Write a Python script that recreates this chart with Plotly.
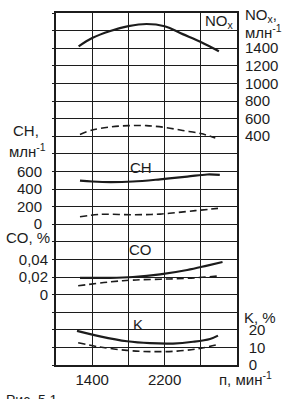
import plotly.graph_objects as go

# engine speed, rpm
nox_rpm = [1250, 1400, 1600, 1800, 2000, 2200, 2400, 2600, 2800]
nox_solid = [1420, 1515, 1595, 1650, 1675, 1650, 1560, 1470, 1365]
noxd_rpm = [1265, 1400, 1600, 1800, 2000, 2200, 2400, 2600, 2760]
nox_dash = [420, 470, 505, 520, 520, 500, 465, 430, 380]

ch_rpm = [1265, 1400, 1600, 1850, 2150, 2450, 2670, 2810]
ch_solid = [495, 485, 478, 485, 510, 540, 565, 560]
chd_rpm = [1265, 1490, 1850, 2150, 2450, 2600, 2790]
ch_dash = [85, 112, 108, 115, 145, 160, 180]

co_rpm = [1265, 1600, 1850, 2150, 2450, 2670, 2840]
co_solid = [0.019, 0.019, 0.020, 0.023, 0.028, 0.033, 0.037]
cod_rpm = [1245, 1600, 1850, 2150, 2450, 2780]
co_dash = [0.010, 0.0145, 0.0165, 0.0175, 0.0185, 0.021]

k_rpm = [1232, 1486, 1785, 2039, 2293, 2514, 2702, 2790]
k_solid = [19.4, 16.3, 13.5, 12.4, 12.2, 13.2, 14.8, 16.7]
kd_rpm = [1245, 1486, 1785, 2039, 2337, 2591, 2790]
k_dash = [12.6, 10.2, 8.3, 7.6, 7.9, 9.4, 11.7]

x_grid = [1000, 1400, 1800, 2200, 2600, 3000]
x_text = ["", "1400", "", "2200", "", ""]
nox_ticks = [400, 600, 800, 1000, 1200, 1400]
ch_ticks = [0, 200, 400, 600]
co_ticks = [0, 0.02, 0.04]
co_text = ["0", "0,02", "0,04"]
k_ticks = [0, 10, 20]

INK = "#1c1c1c"
FONT = dict(family="Liberation Sans, Arial, sans-serif", size=15, color=INK)

# K axis is the base axis: one grid line every 10 %, 20 grid steps
k_grid = list(range(0, 201, 10))
k_text = [str(v) if v in k_ticks else "" for v in k_grid]
# CH axis carries the small outward ticks on the left, one per grid line
ch_grid = list(range(-1600, 2401, 200))
ch_text = [str(v) if v in ch_ticks else "" for v in ch_grid]

fig = go.Figure()

def add(x, y, axis, dash):
    fig.add_trace(go.Scatter(
        x=x, y=y, yaxis=axis, mode="lines", line_shape="spline",
        line=dict(color=INK, width=1.6 if dash else 2.2,
                  dash="7px,4px" if dash else "solid"),
        showlegend=False, hoverinfo="skip"))

add(k_rpm, k_solid, "y", False)
add(kd_rpm, k_dash, "y", True)
add(nox_rpm, nox_solid, "y4", False)
add(noxd_rpm, nox_dash, "y4", True)
add(ch_rpm, ch_solid, "y2", False)
add(chd_rpm, ch_dash, "y2", True)
add(co_rpm, co_solid, "y3", False)
add(cod_rpm, co_dash, "y3", True)

common = dict(overlaying="y", showgrid=False, zeroline=False,
              showline=False, tickfont=FONT, ticklabelstandoff=7)

fig.update_layout(
    width=289, height=399,
    margin=dict(l=56, r=52, t=11, b=28),
    paper_bgcolor="white", plot_bgcolor="white",
    font=FONT,
    xaxis=dict(range=[1000, 3000], tickvals=x_grid, ticktext=x_text,
               showgrid=True, gridcolor=INK, gridwidth=1.2,
               showline=True, mirror=True, linecolor=INK, linewidth=1.5,
               ticks="", zeroline=False, tickfont=FONT),
    yaxis=dict(range=[0, 200], tickvals=k_grid, ticktext=k_text, side="right",
               showgrid=True, gridcolor=INK, gridwidth=1.2,
               showline=True, mirror=True, linecolor=INK, linewidth=1.5,
               ticks="", zeroline=False, tickfont=FONT, ticklabelstandoff=7),
    yaxis2=dict(range=[-1600, 2400], tickvals=ch_grid, ticktext=ch_text,
                side="left", ticks="outside", ticklen=3, tickcolor=INK,
                **common),
    yaxis3=dict(range=[-0.08, 0.32], tickvals=co_ticks, ticktext=co_text,
                side="left", ticks="", **common),
    yaxis4=dict(range=[-2200, 1800], tickvals=nox_ticks, side="right",
                ticks="", **common),
)

def px(xp, yp):
    return (xp - 56) / 181, (371 - yp) / 360

def note(text, xp, yp, xa="left", size=15):
    x, y = px(xp, yp)
    fig.add_annotation(text=text, x=x, y=y, xref="paper", yref="paper",
                       xanchor=xa, yanchor="middle", showarrow=False,
                       font=dict(family=FONT["family"], size=size, color=INK))

note("NO<sub>x</sub>,", 243, 14)
note("млн<sup>-1</sup>", 243, 30)
note("CH,", 26, 131, "center")
note("млн<sup>-1</sup>", 27, 152, "center")
note("CO, %", 28, 241, "center")
note("K, %", 242, 322)
note("п, мин<sup>-1</sup>", 217, 385)
note("NO<sub>x</sub>", 219, 20, "center")
note("CH", 141, 169, "center")
note("CO", 140, 253, "center")
note("K", 138, 330, "center")
note("Рис. 5.1.", 4, 407, "left", 14)

fig.write_html("out.html")
